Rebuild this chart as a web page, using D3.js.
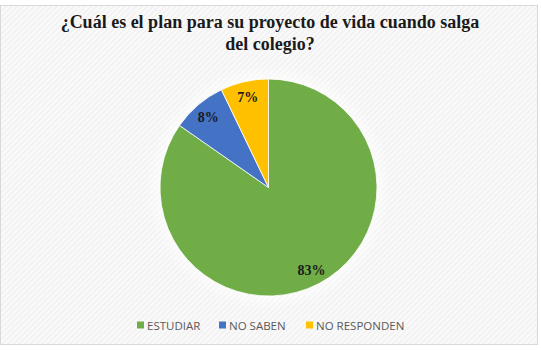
<!DOCTYPE html>
<html><head><meta charset="utf-8">
<script src="https://cdn.jsdelivr.net/npm/d3@7"></script>
<style>body{margin:0;background:#fff}svg{display:block}</style>
</head><body>
<script>
const categories = ["ESTUDIAR", "NO SABEN", "NO RESPONDEN"];
const values = [83, 8, 7];
const labels = ["83%", "8%", "7%"];
const colors = ["#70AD47", "#4472C4", "#FFC000"];
const titleLines = ["¿Cuál es el plan para su proyecto de vida cuando salga", "del colegio?"];

const W = 541, H = 350;
const svg = d3.select("body").append("svg").attr("width", W).attr("height", H);
const defs = svg.append("defs");
const pat = defs.append("pattern").attr("id", "diag").attr("patternUnits", "userSpaceOnUse")
  .attr("width", 4).attr("height", 4).attr("patternTransform", "rotate(45)");
pat.append("rect").attr("width", 4).attr("height", 4).attr("fill", "#fafafa");
pat.append("rect").attr("width", 1.5).attr("height", 4).attr("fill", "#f0f0f0");
const glow = defs.append("radialGradient").attr("id", "glow");
glow.append("stop").attr("offset", "80%").attr("stop-color", "#ffffff").attr("stop-opacity", 1);
glow.append("stop").attr("offset", "100%").attr("stop-color", "#ffffff").attr("stop-opacity", 0);

svg.append("rect").attr("x", 0.5).attr("y", 5.5).attr("width", 537).attr("height", 339)
  .attr("fill", "url(#diag)").attr("stroke", "#d9d9d9").attr("stroke-width", 1);

svg.append("text").attr("x", 270).attr("text-anchor", "middle")
  .attr("font-family", "Liberation Serif, serif").attr("font-weight", "bold")
  .attr("font-size", 18).attr("fill", "#1a1a1a")
  .selectAll("tspan").data(titleLines).join("tspan")
  .attr("x", 270).attr("y", (d, i) => 28 + i * 22).text(d => d);

const cx = 268.5, cy = 187.5, R = 108.5;
const g = svg.append("g").attr("transform", `translate(${cx},${cy})`);
g.append("circle").attr("r", R + 14).attr("fill", "url(#glow)");

const pie = d3.pie().sort(null).value(d => d)(values);
const arc = d3.arc().innerRadius(0).outerRadius(R);
g.selectAll("path").data(pie).join("path")
  .attr("d", arc).attr("fill", (d, i) => colors[i])
  .attr("stroke", "#ffffff").attr("stroke-width", 0.8);

const labelArc = d3.arc().innerRadius(93).outerRadius(93);
g.selectAll("text.lbl").data(pie).join("text").attr("class", "lbl")
  .attr("transform", d => `translate(${labelArc.centroid(d)})`)
  .attr("text-anchor", "middle").attr("dy", "0.35em")
  .attr("font-family", "Liberation Serif, serif").attr("font-weight", "bold")
  .attr("font-size", 14).attr("fill", "#1a1a1a")
  .text((d, i) => labels[i]);

const legX = [137, 219, 306];
const leg = svg.append("g");
categories.forEach((c, i) => {
  leg.append("rect").attr("x", legX[i]).attr("y", 321.5).attr("width", 7).attr("height", 7).attr("fill", colors[i]);
  leg.append("text").attr("x", legX[i] + 10).attr("y", 329.5)
    .attr("font-family", "Open Sans, sans-serif").attr("font-size", 11.5).attr("fill", "#595959")
    .text(c);
});
</script>
</body></html>
